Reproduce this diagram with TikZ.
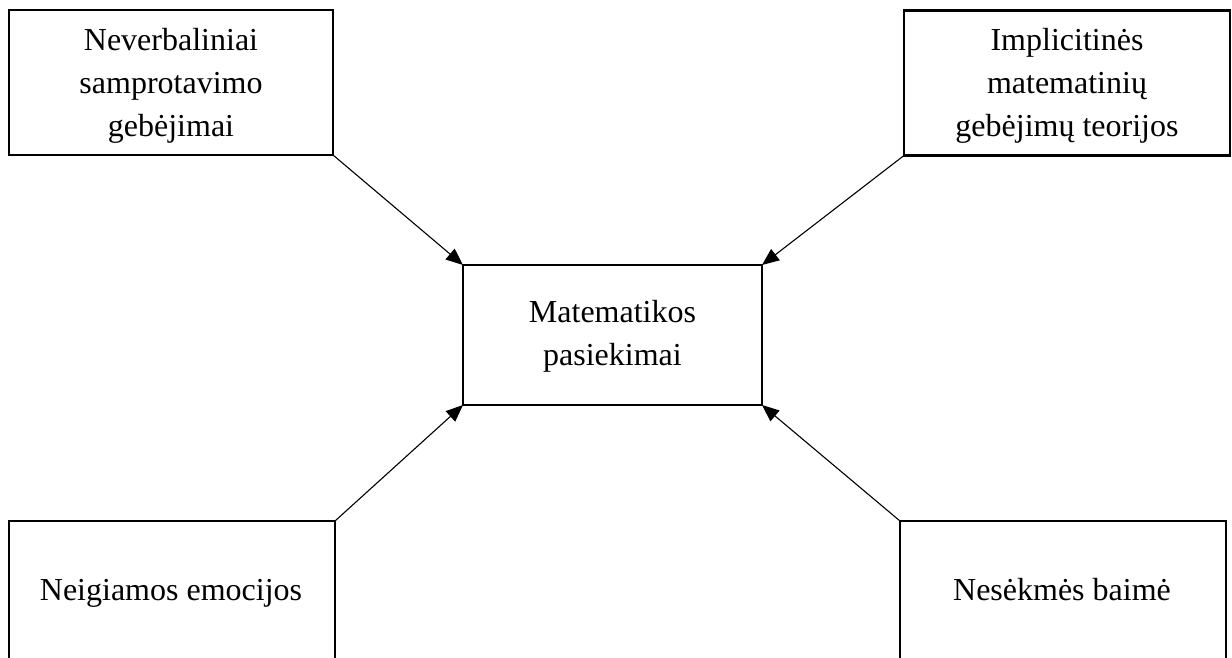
\documentclass[tikz,border=0pt]{standalone}
\usepackage{fontspec}
\setmainfont{Liberation Serif}
\usetikzlibrary{arrows.meta}
\begin{document}
\begin{tikzpicture}[x=1pt,y=-1pt,
  box/.style={draw, line width=2.4pt, inner sep=0pt, outer sep=0pt},
  txt/.style={inner sep=0pt, align=center, font=\fontsize{32pt}{43pt}\selectfont},
  arr/.style={line width=1.1pt, -{Triangle[length=17pt,width=14pt]}}]
\useasboundingbox (0,0) rectangle (1232,657);
\clip (0,0) rectangle (1232,657);
% boxes
\node[box, minimum width=324pt, minimum height=145pt] (tl) at (171,82.5) {};
\node[box, minimum width=326pt, minimum height=145pt] (tr) at (1067,83) {};
\node[box, minimum width=299pt, minimum height=140pt] (c) at (612.5,335) {};
\node[box, minimum width=326pt, minimum height=200pt] (bl) at (172,621) {};
\node[box, minimum width=326pt, minimum height=200pt] (br) at (1063,621) {};
% texts
\node[txt] (tltext) at (171,85.5) {Neverbaliniai\\samprotavimo\\gebėjimai};
\node[txt] (trtext) at (1067,85.5) {Implicitinės\\matematinių\\gebėjimų teorijos};
\node[txt] (ctext) at (612.5,336.5) {Matematikos\\pasiekimai};
\node[txt, anchor=base] (bltext) at (171,600) {Neigiamos emocijos};
\node[txt, anchor=base] (brtext) at (1062,600) {Nesėkmės baimė};
% arrows
\draw[arr] (tl.south east) -- (c.north west);
\draw[arr] (tr.south west) -- (c.north east);
\draw[arr] (bl.north east) -- (c.south west);
\draw[arr] (br.north west) -- (c.south east);
\end{tikzpicture}
\end{document}
